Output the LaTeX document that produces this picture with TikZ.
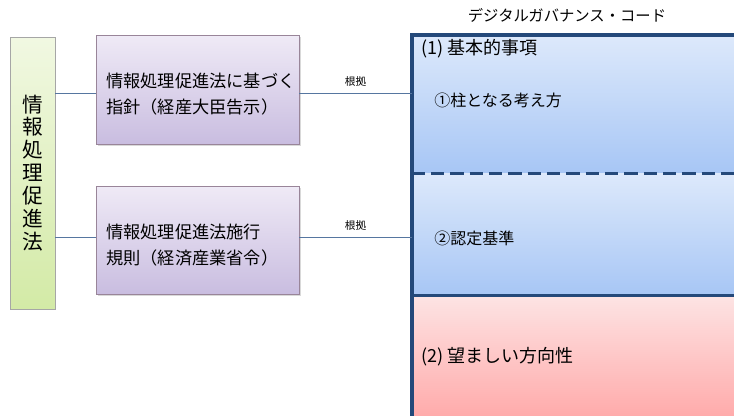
\documentclass[tikz,border=0pt]{standalone}
\usepackage{fontspec}
\setmainfont{Noto Sans CJK JP}
\usetikzlibrary{positioning, calc, shadows}
\definecolor{frameblue}{HTML}{24497A}
\definecolor{linkblue}{HTML}{5676A0}
\definecolor{lawtop}{HTML}{F1F8E2}
\definecolor{lawbottom}{HTML}{D3EAA6}
\definecolor{ruletop}{HTML}{EFEAF6}
\definecolor{rulebottom}{HTML}{C9BDE0}
\definecolor{codetop}{HTML}{DDE9FB}
\definecolor{codebottom}{HTML}{A7C6F5}
\definecolor{wishtop}{HTML}{FDE4E4}
\definecolor{wishbottom}{HTML}{FFA9A9}
\tikzset{
	lawbox/.style={draw=black!35, top color=lawtop, bottom color=lawbottom, minimum width=33.75pt, minimum height=204pt, inner sep=0pt},
	rulebox/.style={draw=violet!20!gray!80, top color=ruletop, bottom color=rulebottom, minimum width=152.25pt, drop shadow={shadow xshift=1.5pt, shadow yshift=-1.5pt, opacity=.3}},
	ruletext/.style={anchor=west, align=left, inner sep=0pt, font=\fontsize{12.9}{20}\selectfont},
	sectionbox/.style={minimum width=246pt, inner sep=0pt},
	link/.style={draw=linkblue, line width=.6pt},
	linklabel/.style={font=\fontsize{8}{10}\selectfont, above=1pt},
	sectext/.style={anchor=west, font=\fontsize{12}{14}\selectfont, inner sep=0pt},
	headtext/.style={anchor=west, font=\fontsize{13.5}{16}\selectfont, inner sep=0pt},
}
\begin{document}
\begin{tikzpicture}[x=0.75pt, y=-0.75pt]
	\useasboundingbox (0,0) rectangle (734,415);
	\clip (0,0) rectangle (734,415);

	\node[lawbox, align=center, font=\fontsize{15.5}{17.2}\selectfont] (law) at (32.5,173) {情\\報\\処\\理\\促\\進\\法};
	\node[rulebox, minimum height=81.75pt] (guide) at (197.5,89.5) {};
	\node[rulebox, minimum height=81pt] (rule) at (197.5,240) {};
	\node[ruletext] (guidetext) at (106,94) {情報処理促進法に基づく\\指針（経産大臣告示）};
	\node[ruletext] (ruletext) at (106,245) {情報処理促進法施行\\規則（経済産業省令）};

	% code sections
	\node[sectionbox, minimum height=103.5pt, top color=codetop, bottom color=codebottom] (basic) at (576,104) {};
	\node[sectionbox, minimum height=91.5pt, top color=codetop, bottom color=codebottom] (criteria) at (576,234) {};
	\node[sectionbox, minimum height=93.75pt, top color=wishtop, bottom color=wishbottom] (direction) at (576,357.5) {};
	\draw[frameblue, line width=2.2pt, dash pattern=on 10pt off 4.5pt] (basic.south west) -- (basic.south east);
	\draw[frameblue, line width=2.2pt] (criteria.south west) -- (criteria.south east);
	\draw[frameblue, line width=3pt] (basic.north west) rectangle (direction.south east);
	\node[font=\fontsize{11.5}{14}\selectfont] (title) at (567,15) {デジタルガバナンス・コード};

	\node[headtext] (basichead) at (421,49) {(1) 基本的事項};
	\node[sectext] (pillars) at (434,100) {①柱となる考え方};
	\node[sectext] (standard) at (434,238) {②認定基準};
	\node[headtext] (directionhead) at (421,357) {(2) 望ましい方向性};

	\draw[link] (law.east |- 0,93) -- (guide.west |- 0,93);
	\draw[link] (law.east |- 0,237) -- (rule.west |- 0,237);
	\draw[link] (guide.east |- 0,93) -- node[linklabel]{根拠} (basic.west |- 0,93);
	\draw[link] (rule.east |- 0,237) -- node[linklabel]{根拠} (criteria.west |- 0,237);
\end{tikzpicture}
\end{document}
